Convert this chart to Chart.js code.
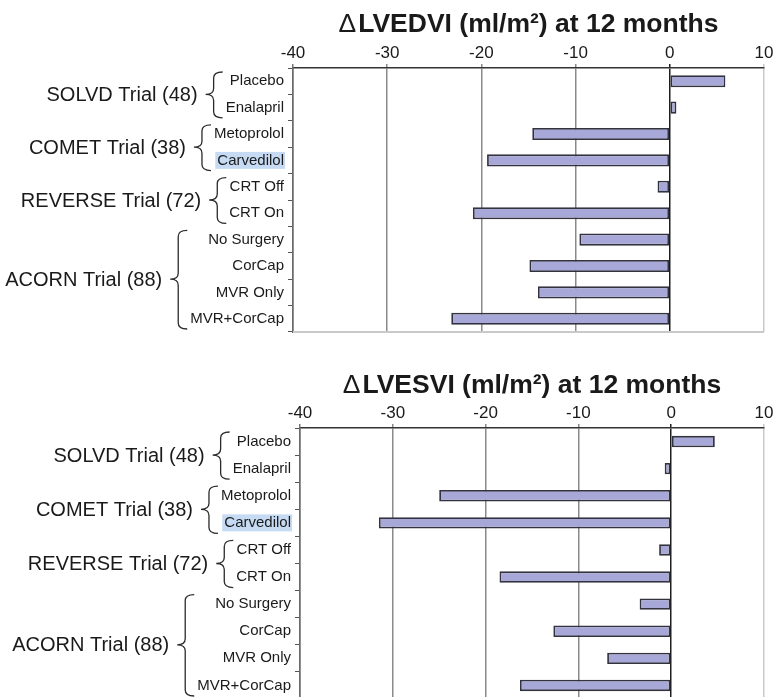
<!DOCTYPE html>
<html><head><meta charset="utf-8">
<script src="https://cdn.jsdelivr.net/npm/chart.js@4.4.0/dist/chart.umd.min.js"></script>
<style>
html,body{margin:0;padding:0;background:#fff;overflow:hidden;width:775px;height:697px;}
canvas{position:absolute;left:0;}
#c1{top:0;} #c2{top:360px;}
</style></head><body>
<canvas id="c1" width="775" height="345"></canvas>
<canvas id="c2" width="775" height="352"></canvas>
<script>
// ---- data ----
const categories = ['Placebo','Enalapril','Metoprolol','Carvedilol','CRT Off','CRT On','No Surgery','CorCap','MVR Only','MVR+CorCap'];
const groupNames = ['SOLVD Trial (48)','COMET Trial (38)','REVERSE Trial (72)','ACORN Trial (88)'];
const groupSizes = [2,2,2,4];
const highlightedLabel = 'Carvedilol';
const lvedviChange = [5.9, 0.7, -14.6, -19.4, -1.3, -20.9, -9.6, -14.9, -14.0, -23.2];
const lvesviChange = [4.7, -0.7, -25.0, -31.5, -1.3, -18.5, -3.4, -12.7, -6.9, -16.3];
const xTickValues = [-40, -30, -20, -10, 0, 10];
const titleEDV = 'ΔLVEDVI (ml/m²) at 12 months';
const titleESV = 'ΔLVESVI (ml/m²) at 12 months';

// ---- styling ----
const FONT = "'Liberation Sans', Arial, Helvetica, sans-serif";
const SUB_SIZE = 15, GROUP_SIZE = 20, TITLE_SIZE = 26.5, TICK_SIZE = 17;
const Y_TICK_LEN = 5, Y_TICK_PAD = 4;

function gridColor(v){
  if (v === 0) return '#1e1e1e';
  if (v === xTickValues[xTickValues.length-1]) return '#c9c9c9';
  if (v === xTickValues[0]) return '#777';
  return '#8a8a8a';
}

function drawBrace(ctx, x0, yT, yM, yB){
  const xm = x0 - 9, xt = x0 - 17;
  ctx.beginPath();
  ctx.moveTo(x0, yT);
  ctx.quadraticCurveTo(xm, yT, xm, yT + 6);
  ctx.lineTo(xm, yM - 6);
  ctx.quadraticCurveTo(xm, yM, xt, yM);
  ctx.quadraticCurveTo(xm, yM, xm, yM + 6);
  ctx.lineTo(xm, yB - 6);
  ctx.quadraticCurveTo(xm, yB, x0, yB);
  ctx.stroke();
  return xt;
}

const decor = {
  id: 'decor',
  beforeDraw(chart){
    const y = chart.scales.y, ctx = chart.ctx;
    const idx = categories.indexOf(highlightedLabel);
    if (idx < 0) return;
    ctx.save();
    ctx.font = SUB_SIZE + 'px ' + FONT;
    const w = ctx.measureText(highlightedLabel).width;
    const right = y.right - Y_TICK_LEN - Y_TICK_PAD;
    const yc = y.getPixelForValue(idx);
    ctx.fillStyle = '#c6dbf3';
    ctx.fillRect(right - w - 2, yc - 8.5, w + 3, 17);
    ctx.restore();
  },
  afterDraw(chart, args, opts){
    const y = chart.scales.y, ctx = chart.ctx, area = chart.chartArea;
    ctx.save();
    // bottom frame line
    ctx.strokeStyle = '#c9c9c9';
    ctx.lineWidth = 2;
    ctx.beginPath();
    ctx.moveTo(area.left, area.bottom);
    ctx.lineTo(area.right, area.bottom);
    ctx.stroke();
    // title
    const title = opts.title;
    const cx = (area.left + area.right) / 2;
    const delta = title.charAt(0);
    const rest = title.slice(1);
    ctx.fillStyle = '#1a1a1a';
    ctx.textBaseline = 'alphabetic';
    ctx.font = 'normal ' + TITLE_SIZE + 'px ' + FONT;
    const wd = ctx.measureText(delta).width;
    ctx.font = 'bold ' + TITLE_SIZE + 'px ' + FONT;
    const wr = ctx.measureText(rest).width;
    let x = cx - (wd + wr + 2) / 2;
    ctx.textAlign = 'left';
    ctx.font = 'normal ' + TITLE_SIZE + 'px ' + FONT;
    ctx.fillText(delta, x, opts.titleY);
    ctx.font = 'bold ' + TITLE_SIZE + 'px ' + FONT;
    ctx.fillText(rest, x + wd + 2, opts.titleY);
    // braces and group labels
    const rowH = Math.abs(y.getPixelForValue(1) - y.getPixelForValue(0));
    const right = y.right - Y_TICK_LEN - Y_TICK_PAD;
    let s = 0;
    ctx.strokeStyle = '#2a2a2a';
    ctx.lineWidth = 1.3;
    groupNames.forEach((name, g) => {
      const e = s + groupSizes[g] - 1;
      ctx.font = SUB_SIZE + 'px ' + FONT;
      let maxW = 0;
      for (let i = s; i <= e; i++) maxW = Math.max(maxW, ctx.measureText(categories[i]).width);
      const pS = y.getPixelForValue(s), pE = y.getPixelForValue(e);
      const yT = pS - rowH / 2 + 4, yB = pE + rowH / 2 - 3, yM = (pS + pE) / 2;
      const x0 = right - maxW - 3;
      const xt = drawBrace(ctx, x0, yT, yM, yB);
      ctx.font = GROUP_SIZE + 'px ' + FONT;
      ctx.textAlign = 'right';
      ctx.textBaseline = 'middle';
      ctx.fillStyle = '#1a1a1a';
      ctx.fillText(name, xt - 8, yM + 1);
      s = e + 1;
    });
    ctx.restore();
  }
};

function makeChart(id, values, title, titleY, yWidth, barPct){
  return new Chart(document.getElementById(id), {
    type: 'bar',
    data: {
      labels: categories,
      datasets: [{
        data: values,
        backgroundColor: '#a7a8d8',
        borderColor: '#33333f',
        borderWidth: 1.8,
        borderSkipped: false,
        barPercentage: barPct,
        categoryPercentage: 1
      }]
    },
    options: {
      indexAxis: 'y',
      responsive: false,
      animation: false,
      devicePixelRatio: 1,
      layout: { padding: { left: 0, right: 11, top: 42, bottom: 11 } },
      plugins: {
        legend: { display: false },
        tooltip: { enabled: false },
        title: { display: false },
        decor: { title: title, titleY: titleY }
      },
      scales: {
        x: {
          position: 'top',
          min: xTickValues[0],
          max: xTickValues[xTickValues.length - 1],
          afterBuildTicks: sc => { sc.ticks = xTickValues.map(v => ({ value: v })); },
          afterFit: sc => { sc.height = 26; },
          ticks: { font: { family: FONT, size: TICK_SIZE }, color: '#1a1a1a', padding: 0, maxRotation: 0, autoSkip: false },
          grid: { color: c => gridColor(c.tick ? c.tick.value : null), lineWidth: 1.5, tickLength: 4 },
          border: { color: '#333', width: 1.5 }
        },
        y: {
          afterFit: sc => { sc.width = yWidth; },
          ticks: { font: { family: FONT, size: SUB_SIZE }, color: '#1a1a1a', padding: Y_TICK_PAD, autoSkip: false },
          grid: { offset: true, drawOnChartArea: false, tickLength: Y_TICK_LEN, color: '#555', lineWidth: 1 },
          border: { color: '#6a6a6a', width: 1.5 }
        }
      }
    },
    plugins: [decor]
  });
}

makeChart('c1', lvedviChange, titleEDV, 32, 293, 0.46);
makeChart('c2', lvesviChange, titleESV, 33, 300, 0.42);
</script>
</body></html>
